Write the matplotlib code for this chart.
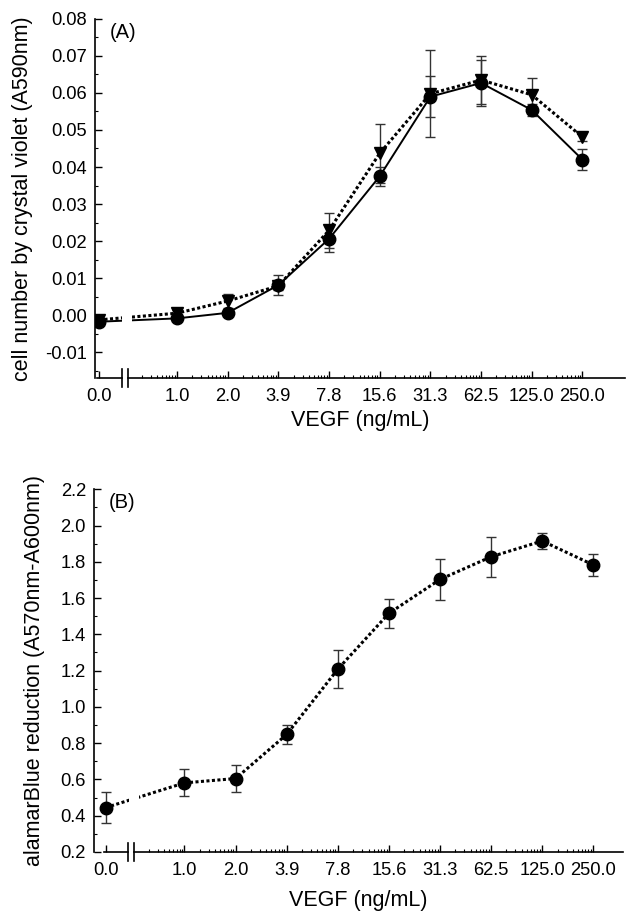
import numpy as np
import matplotlib.pyplot as plt

plt.rcParams['font.family'] = ['Liberation Sans', 'DejaVu Sans']

# VEGF doses (ng/mL), shown as equally spaced doubling steps after an axis break
dose_labels = ['0.0', '1.0', '2.0', '3.9', '7.8', '15.6', '31.3', '62.5', '125.0', '250.0']

# (A) crystal violet, two series
cv_circle = [-0.0018, -0.0009, 0.0006, 0.0081, 0.0206, 0.0375, 0.0590, 0.0627, 0.0554, 0.0420]
cv_circle_err = [0.0010, 0.0008, 0.0008, 0.0028, 0.0035, 0.0025, 0.0056, 0.0062, 0.0015, 0.0028]
cv_tri = [-0.0013, 0.0005, 0.0038, 0.0079, 0.0229, 0.0437, 0.0598, 0.0635, 0.0595, 0.0481]
cv_tri_err = [0.0010, 0.0008, 0.0020, 0.0010, 0.0047, 0.0080, 0.0117, 0.0065, 0.0046, 0.0010]

# (B) alamarBlue
ab = [0.445, 0.581, 0.605, 0.848, 1.208, 1.516, 1.703, 1.828, 1.915, 1.783]
ab_err = [0.088, 0.074, 0.073, 0.050, 0.105, 0.081, 0.111, 0.111, 0.046, 0.060]

ZERO_POS = -1.54          # where the 0.0 dose sits, left of the break
x = np.concatenate([[ZERO_POS], np.arange(len(dose_labels) - 1)])

fig = plt.figure(figsize=(6.29, 9.11), dpi=100)
axA = fig.add_axes([0.1510, 0.5851, 0.8426, 0.3941])
axB = fig.add_axes([0.1499, 0.0648, 0.8405, 0.3981])

ebkw = dict(ecolor='#333333', elinewidth=1.0, capsize=3.3, capthick=1.0)


def style_axes(ax, xlim, brk):
    ax.set_xlim(*xlim)
    ax.spines['top'].set_visible(False)
    ax.spines['right'].set_visible(False)
    ax.spines['left'].set_linewidth(1.2)
    ax.spines['bottom'].set_linewidth(1.2)
    ax.spines['bottom'].set_bounds(brk[1], xlim[1])
    ax.set_xticks(x)
    ax.set_xticklabels(dose_labels)
    minor = [k + np.log10(m) for k in range(-1, 8) for m in range(2, 10)]
    ax.set_xticks([p for p in minor if p > brk[1] + 0.03], minor=True)
    ax.tick_params(axis='both', which='both', direction='in', labelsize=13.2)
    ax.tick_params(axis='x', which='major', length=5, width=1, pad=7)
    ax.tick_params(axis='x', which='minor', length=2.5, width=0.8)
    ax.tick_params(axis='y', which='major', length=5, width=1, pad=6)
    ax.tick_params(axis='y', which='minor', length=2.5, width=0.8)
    tr = ax.get_xaxis_transform()
    # white gap in the data line at the break
    ax.axvspan(brk[0] + 0.005, brk[1] + 0.09, color='white', zorder=2.5, lw=0)
    # short axis piece for the 0.0 dose and the break marks
    ax.plot([ZERO_POS - 0.04, brk[0]], [0, 0], color='black', lw=1.2,
            transform=tr, clip_on=False, zorder=5)
    for b in brk:
        ax.plot([b, b], [-0.024, 0.024], color='black', lw=1.2,
                transform=tr, clip_on=False, zorder=5)
    ax.set_xlabel('VEGF (ng/mL)', fontsize=15.5)


# panel A
axA.errorbar(x, cv_tri, yerr=cv_tri_err, fmt='none', zorder=1, **ebkw)
axA.errorbar(x, cv_circle, yerr=cv_circle_err, fmt='none', zorder=1, **ebkw)
axA.plot(x, cv_tri, color='black', lw=2.2, ls=(0, (1, 0.8)), zorder=2)
axA.plot(x, cv_circle, color='black', lw=1.4, zorder=2)
axA.plot(x, cv_tri, 'v', color='black', ms=8.5, zorder=3)
axA.plot(x, cv_circle, 'o', color='black', ms=9, zorder=4)
axA.set_ylim(-0.017, 0.08)
axA.set_yticks(np.arange(-0.01, 0.0801, 0.01))
axA.set_yticklabels([f'{v:.2f}' for v in np.arange(-0.01, 0.0801, 0.01)])
axA.set_yticks(np.arange(-0.015, 0.08, 0.005), minor=True)
style_axes(axA, (-1.62, 8.84), (-1.09, -0.97))
axA.set_ylabel('cell number by crystal violet (A590nm)', fontsize=15.5)
axA.yaxis.set_label_coords(-0.117, 0.5)
axA.xaxis.set_label_coords(0.5, -0.09)
axA.text(0.028, 0.99, '(A)', transform=axA.transAxes, fontsize=14.5, va='top', ha='left')

# panel B
axB.errorbar(x, ab, yerr=ab_err, fmt='none', zorder=1, **ebkw)
axB.plot(x, ab, color='black', lw=2.2, ls=(0, (1, 0.8)), zorder=2)
axB.plot(x, ab, 'o', color='black', ms=9, zorder=4)
axB.set_ylim(0.2, 2.2)
axB.set_yticks(np.arange(0.2, 2.201, 0.2))
axB.set_yticklabels([f'{v:.1f}' for v in np.arange(0.2, 2.201, 0.2)])
axB.set_yticks(np.arange(0.3, 2.2, 0.1), minor=True)
style_axes(axB, (-1.765, 8.58), (-1.10, -0.98))
axB.set_ylabel('alamarBlue reduction (A570nm-A600nm)', fontsize=15.5)
axB.yaxis.set_label_coords(-0.093, 0.5)
axB.xaxis.set_label_coords(0.5, -0.105)
axB.text(0.028, 0.99, '(B)', transform=axB.transAxes, fontsize=14.5, va='top', ha='left')

fig.savefig('out.png', dpi=100)
